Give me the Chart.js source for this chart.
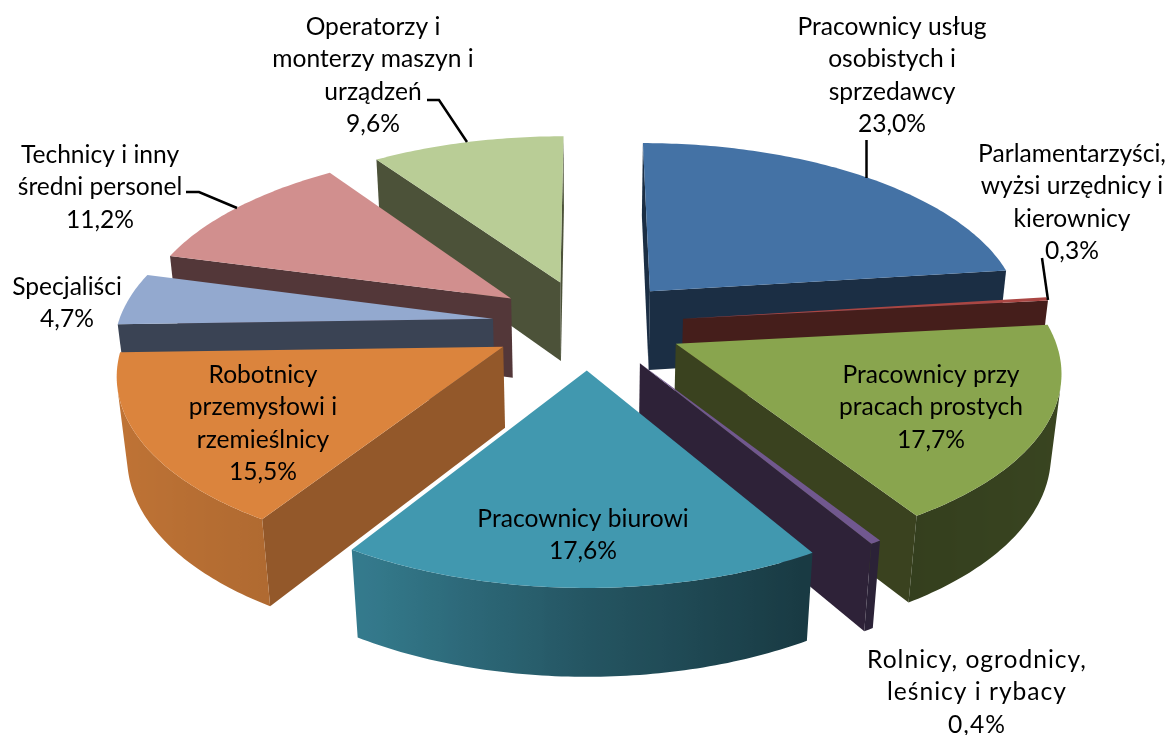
<!DOCTYPE html>
<html>
<head>
<meta charset="utf-8">
<script src="https://cdn.jsdelivr.net/npm/chart.js@4/dist/chart.umd.min.js"></script>
<style>
  html, body { margin: 0; padding: 0; background: #fff; }
  canvas { display: block; }
</style>
</head>
<body>
<canvas id="wykres" width="1170" height="735"></canvas>
<script>
// Dane
const kategorie = [
  ["Pracownicy usług", "osobistych i", "sprzedawcy"],
  ["Parlamentarzyści,", "wyżsi urzędnicy i", "kierownicy"],
  ["Pracownicy przy", "pracach prostych"],
  ["Rolnicy, ogrodnicy,", "leśnicy i rybacy"],
  ["Pracownicy biurowi"],
  ["Robotnicy", "przemysłowi i", "rzemieślnicy"],
  ["Specjaliści"],
  ["Technicy i inny", "średni personel"],
  ["Operatorzy i", "monterzy maszyn i", "urządzeń"]
];
const wartosci = [23.0, 0.3, 17.7, 0.4, 17.6, 15.5, 4.7, 11.2, 9.6];

// Kolory
const koloryGora = ["#4472A5", "#AA4643", "#89A54E", "#71588F", "#4198AF", "#DB843D", "#93A9CF", "#D18F8E", "#B9CD96"];
const koloryCiecie = ["#1B2E44", "#451E1B", "#3A421F", "#2E2238", "#1A3A44", "#93582A", "#3A4354", "#533739", "#4C5239"];
const cieniowanie = [[-1, 0.88], [-0.5, 0.80], [0, 0.56], [0.5, 0.38], [1, 0.42]];

// Etykiety: srodek tekstu i pierwsza linia
const pozycjeEtykiet = [[892, 27], [1072, 154], [931, 375], [977, 660], [583, 519], [263, 375], [67, 287], [100, 155], [373, 27]];
const odstepyLiter = ["0px", "0px", "0px", "1px", "0px", "0px", "0px", "0px", "0px"];
const odstepLinii = 32.4;
const liniePomocnicze = [
  [[866.5, 140], [866.5, 178]],
  [[1042, 258], [1048, 300]],
  [[427, 100], [439, 100], [467, 142]],
  [[186, 192], [199, 192], [237, 208]]
];

// Rzut perspektywiczny
const SPLASZCZENIE = 0.468, PERSPEKTYWA = 0.00035, GLEBOKOSC = 82, ZBIEZNOSC = 0.022;

function rzut(el, u, v, z) {
  const w = 1 - PERSPEKTYWA * v + ZBIEZNOSC * z;
  return [el.x + u / w, el.y + (SPLASZCZENIE * v + GLEBOKOSC * z) / w];
}

function wielokat(ctx, punkty, kolor) {
  ctx.beginPath();
  punkty.forEach((p, i) => i ? ctx.lineTo(p[0], p[1]) : ctx.moveTo(p[0], p[1]));
  ctx.closePath();
  ctx.fillStyle = kolor;
  ctx.fill();
}

function pole(p) {
  let s = 0;
  p.forEach((a, i) => {
    const b = p[(i + 1) % p.length];
    s += a[0] * b[1] - b[0] * a[1];
  });
  return s;
}

function przyciemnij(hex, k) {
  const n = parseInt(hex.slice(1), 16);
  return `rgb(${Math.round((n >> 16) * k)},${Math.round(((n >> 8) & 255) * k)},${Math.round((n & 255) * k)})`;
}

function cien(nx) {
  for (let i = 1; i < cieniowanie.length; i++) {
    const [x0, y0] = cieniowanie[i - 1];
    const [x1, y1] = cieniowanie[i];
    if (nx <= x1) return y0 + (y1 - y0) * (nx - x0) / (x1 - x0);
  }
  return 0.42;
}

// Ściana zewnętrzna jako jeden wielokąt z gradientem
function rysujSciane(ctx, el, widoczne) {
  if (!widoczne.length) return;
  const gora = widoczne.map(e => rzut(el, e[0], e[1], 0));
  const dol = widoczne.map(e => rzut(el, e[0], e[1], 1));
  const xs = gora.map(p => p[0]);
  const xMin = Math.min(...xs), xMax = Math.max(...xs);
  const gradient = ctx.createLinearGradient(xMin, 0, xMax, 0);
  widoczne.forEach((e, k) => {
    const t = xMax > xMin ? (xs[k] - xMin) / (xMax - xMin) : 0;
    gradient.addColorStop(t, przyciemnij(el.options.backgroundColor, cien(Math.cos(e[2]))));
  });
  wielokat(ctx, gora.concat(dol.reverse()), gradient);
}

// Rysuje jeden wycinek z geometrii elementu Chart.js
function rysujWycinek(ctx, el, i) {
  const { startAngle: a1, endAngle: a2, outerRadius: r } = el;
  const d = el.options.offset, srodek = (a1 + a2) / 2;
  const ox = Math.cos(srodek) * d, oy = Math.sin(srodek) * d;
  const kroki = Math.max(2, Math.ceil((a2 - a1) / 0.015));
  const krawedz = [];
  for (let k = 0; k <= kroki; k++) {
    const a = a1 + (a2 - a1) * k / kroki;
    krawedz.push([ox + Math.cos(a) * r, oy + Math.sin(a) * r, a]);
  }
  const p0 = z => rzut(el, ox, oy, z);
  const pk = (e, z) => rzut(el, e[0], e[1], z);

  // ściany cięcia
  const pierwsza = [p0(0), pk(krawedz[0], 0), pk(krawedz[0], 1), p0(1)];
  const ostatnia = [p0(0), pk(krawedz[kroki], 0), pk(krawedz[kroki], 1), p0(1)];
  if (pole(pierwsza) < 0) wielokat(ctx, pierwsza, koloryCiecie[i]);
  if (pole(ostatnia) > 0) wielokat(ctx, ostatnia, koloryCiecie[i]);

  // ściana zewnętrzna, tylko odcinki zwrócone do widza
  const widoczne = [];
  for (let k = 0; k < kroki; k++) {
    const e0 = krawedz[k], e1 = krawedz[k + 1];
    if (pole([pk(e0, 0), pk(e1, 0), pk(e1, 1), pk(e0, 1)]) < 0) {
      if (!widoczne.length) widoczne.push(e0);
      widoczne.push(e1);
    }
  }
  rysujSciane(ctx, el, widoczne);

  // wierzch
  wielokat(ctx, [p0(0)].concat(krawedz.map(e => pk(e, 0))), el.options.backgroundColor);
}

const wycinki3d = {
  id: "wycinki3d",
  beforeDatasetsDraw(chart) {
    const ctx = chart.ctx;
    const elementy = chart.getDatasetMeta(0).data.map((el, i) => ({ el, i }));
    // od tyłu do przodu
    elementy.sort((a, b) => Math.sin((a.el.startAngle + a.el.endAngle) / 2) - Math.sin((b.el.startAngle + b.el.endAngle) / 2));
    ctx.save();
    elementy.forEach(({ el, i }) => rysujWycinek(ctx, el, i));
    ctx.restore();
    return false;
  },
  afterDraw(chart) {
    const ctx = chart.ctx;
    ctx.save();
    ctx.strokeStyle = "#000";
    ctx.lineWidth = 2.5;
    liniePomocnicze.forEach(linia => {
      ctx.beginPath();
      linia.forEach((p, i) => i ? ctx.lineTo(p[0], p[1]) : ctx.moveTo(p[0], p[1]));
      ctx.stroke();
    });
    ctx.fillStyle = "#000";
    ctx.font = '24.6px Lato';
    ctx.textAlign = "center";
    ctx.textBaseline = "middle";
    kategorie.forEach((linie, i) => {
      const [x, y] = pozycjeEtykiet[i];
      const tekst = linie.concat(wartosci[i].toFixed(1).replace(".", ",") + "%");
      ctx.letterSpacing = odstepyLiter[i];
      tekst.forEach((t, j) => ctx.fillText(t, x, y + j * odstepLinii));
    });
    ctx.restore();
  }
};

new Chart(document.getElementById("wykres"), {
  type: "pie",
  data: {
    labels: kategorie.map(l => l.join(" ")),
    datasets: [{
      data: wartosci,
      backgroundColor: koloryGora,
      borderWidth: 0,
      offset: 96
    }]
  },
  options: {
    responsive: false,
    animation: false,
    radius: 375,
    layout: { padding: { left: 6, right: 0, top: 0, bottom: 87 } },
    plugins: { legend: { display: false }, tooltip: { enabled: false } }
  },
  plugins: [wycinki3d]
});
</script>
</body>
</html>
